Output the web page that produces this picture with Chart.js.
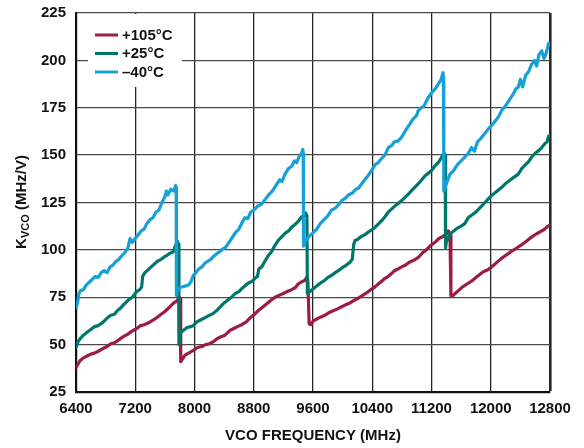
<!DOCTYPE html>
<html><head><meta charset="utf-8">
<script src="https://cdn.jsdelivr.net/npm/chart.js@4.4.0/dist/chart.umd.min.js"></script>
<style>html,body{margin:0;padding:0;background:#fff}</style>
</head><body>
<canvas id="c" width="584" height="448"></canvas>
<script>
// ---- data ----
const xTicks = [6400,7200,8000,8800,9600,10400,11200,12000,12800];
const yTicks = [25,50,75,100,125,150,175,200,225];
const seriesNames = ['+105°C','+25°C','\u201340°C'];
const seriesColors = ['#9c1b47','#00776b','#16a0d8'];

const freqM40 = [
6400,6420,6440,6460,6500,6540,6580,6620,6660,6700,
6740,6780,6820,6860,6900,6940,6980,7020,7060,7100,
7130,7160,7200,7240,7280,7320,7360,7400,7440,7480,
7520,7560,7600,7620,7640,7680,7720,7745,7752,7756,
7775,7800,7840,7880,7920,7950,7984,8020,8060,8100,
8140,8180,8220,8254,8300,8340,8380,8412,8450,8500,
8550,8600,8650,8682,8720,8760,8800,8850,8900,8952,
9000,9050,9100,9150,9180,9222,9270,9310,9350,9380,
9410,9447,9462,9468,9472,9500,9559,9600,9650,9700,
9762,9800,9850,9900,9950,9987,10030,10080,10130,10180,
10212,10260,10300,10340,10392,10440,10480,10520,10572,10617,
10660,10700,10750,10797,10850,10900,10950,11000,11022,11060,
11100,11150,11203,11250,11300,11330,11355,11362,11366,11385,
11410,11450,11500,11550,11600,11650,11697,11740,11780,11820,
11870,11922,11970,12020,12060,12100,12148,12200,12250,12300,
12340,12372,12400,12430,12470,12510,12553,12590,12620,12650,
12688,12720,12750,12780,12800];
const kvcoM40 = [
69.5,72,77,78.5,79,81.5,83,84.5,86,85.5,
88,89,88,91,92,94,95,97,98.5,101,
106,104,106,108,110,111,114,116,117,120,
121,125,128,131,129,132,131,134,133,76,
79,80,80.5,81,81.5,83,86.5,88,90,91,
93,94,95,96.5,98,99,100.5,101,103,106,
109,111,115,117,116.5,120,121,123,124,126.5,
129,131,134,137,136,140,143,144,147,146,
149,151,153,151,102,105,107.5,109,111,114,
116.5,118,121,122,124,126,127,129,130,132,
132.5,135,137,139,142,145,146,148,150,154,
155,157,157.5,159.5,163,166,169,171,173.5,175,
176,180,183,185,188,190,193.5,191,131,133,
136,140,142,145,147,149,151,154,152,157,
159,161.5,164,166,168,170,173.5,176,179,182,
185,186,190,186,192,194,198,200,197,203,
205,201,204,209,208];

const freq25 = [
6400,6420,6454,6500,6550,6600,6650,6700,6769,6820,
6870,6920,6960,6994,7040,7080,7120,7160,7219,7260,
7287,7300,7330,7360,7400,7444,7500,7550,7600,7625,
7660,7714,7740,7770,7782,7790,7800,7849,7900,7950,
7984,8030,8080,8130,8180,8254,8300,8350,8400,8450,
8500,8550,8600,8637,8680,8730,8780,8817,8850,8870,
8907,8950,8996,9040,9080,9131,9180,9230,9270,9312,
9360,9400,9447,9480,9500,9518,9524,9560,9604,9650,
9700,9762,9800,9850,9900,9942,9990,10050,10100,10130,
10150,10170,10200,10250,10300,10350,10392,10440,10490,10540,
10572,10617,10660,10700,10750,10797,10850,10900,10950,11000,
11022,11070,11110,11160,11203,11250,11300,11338,11370,11385,
11390,11400,11450,11500,11550,11600,11652,11697,11750,11800,
11850,11922,11970,12020,12070,12100,12148,12200,12250,12300,
12372,12420,12470,12510,12553,12600,12650,12688,12730,12760,
12780,12800];
const kvco25 = [
48.5,51,53,55,56.5,58,59.5,60,62,64,
65.5,66,68,69,71,72.5,74,75,78,79,
80.5,86,88,89,90.5,92,94,95,96.5,97,
98,99,102,104.5,103,50,56,57.5,59,59.5,
60,62,63,64,65,66.5,68,70,72,73.5,
75,77,78,79.5,81,82.5,83.5,85,86,90,
91,94,97,99,102,105,107,109,110,112,
113.5,115,117.5,118,119.5,118,77,78,79.5,81,
82.5,84,85.5,86.5,88,89,90.5,92,93.5,95,
103,105,105.5,107,108,109.5,110.5,112,114,116,
117.5,120,121.5,123,124.5,126,128,130,132,134,
135,137,139,140.5,142,144.5,146.5,149,151,150,
101,104,108.5,110,111.5,112.5,114,117,118.5,120,
122,125,127,129,130.5,131.5,133,135,136.5,138,
140,143,145,146.5,149,151,152.5,154,156,157,
160,160.5];

const freq105 = [
6400,6430,6454,6500,6550,6600,6650,6700,6769,6820,
6870,6920,6960,6994,7050,7100,7150,7219,7270,7320,
7380,7444,7500,7550,7600,7669,7720,7760,7795,7806,
7814,7830,7872,7920,7984,8040,8100,8150,8200,8254,
8300,8350,8412,8479,8530,8580,8637,8700,8760,8810,
8862,8910,8960,9020,9087,9140,9200,9250,9312,9360,
9400,9440,9492,9515,9530,9548,9570,9604,9650,9700,
9762,9820,9880,9940,9987,10040,10100,10160,10212,10270,
10330,10380,10437,10480,10530,10572,10617,10660,10700,10750,
10797,10850,10900,10960,11022,11080,11130,11180,11247,11300,
11350,11405,11427,11450,11462,11480,11520,11562,11620,11680,
11740,11787,11850,11900,11960,12012,12070,12130,12180,12237,
12290,12350,12410,12463,12510,12560,12620,12688,12730,12770,
12800];
const kvco105 = [
38,40,41.5,43,44,45,45.5,46.5,48,49,
50.5,51,52,53,54.5,55.5,57,58.5,60,60.5,
61.5,63,64.5,66,67.5,70,72,73,75,74,
41,42,44.5,45.5,47,48.5,49,50,50.5,51.5,
53,54,55,57.5,58.5,59.5,60.5,62,64.5,66,
68,69.5,71,73,75,76,77,78,79,80,
82,83,84,85.5,84,61,60.5,62.5,63.5,64.5,
65.5,67,68,69,70,71,72,73.5,74.5,76,
77.5,79,80.5,82,83.5,85,86,87.5,89,90,
91,92,93.5,94.5,96,98.5,100,102,104,106,
107,108.5,110,108,76,75.5,77,78.5,80.5,82,
83.5,85,87,88.5,89.5,91,93,95,96.5,98,
99.5,101,102.5,104,105.5,107,108.5,110,111,112.5,
113];

// ---- chart ----
const pts = (fs, ks) => fs.map((f, i) => ({x: f, y: ks[i]}));
const FONT = '"Liberation Sans", Arial, sans-serif';

const mk = (i, fs, ks, order) => ({
  label: seriesNames[i], data: pts(fs, ks), borderColor: seriesColors[i],
  backgroundColor: seriesColors[i], borderWidth: 3.2, pointRadius: 0,
  tension: 0, fill: false, order: order, borderJoinStyle: 'round', borderCapStyle: 'round'
});

const decor = {
  id: 'decor',
  afterDraw(chart) {
    const c = chart.ctx;
    c.save();
    // legend box
    c.fillStyle = '#fff';
    c.fillRect(88, 14, 94, 73);
    const ly = [35, 53.5, 72];
    for (let i = 0; i < 3; i++) {
      c.strokeStyle = seriesColors[i];
      c.lineWidth = 3;
      c.lineCap = 'butt';
      c.beginPath(); c.moveTo(95, ly[i]); c.lineTo(118, ly[i]); c.stroke();
      c.fillStyle = '#111';
      c.font = 'bold 15px ' + FONT;
      c.textBaseline = 'middle'; c.textAlign = 'left';
      c.fillText(seriesNames[i], 122, ly[i] + 0.5);
    }
    // x title
    c.fillStyle = '#111';
    c.font = 'bold 15px ' + FONT;
    c.textAlign = 'center'; c.textBaseline = 'middle';
    c.fillText('VCO FREQUENCY (MHz)', 313, 436);
    // y title with subscript
    c.translate(20, 202);
    c.rotate(-Math.PI / 2);
    c.textAlign = 'left'; c.textBaseline = 'alphabetic';
    const fBig = 'bold 15px ' + FONT, fSmall = 'bold 11px ' + FONT;
    c.font = fBig; const wK = c.measureText('K').width;
    c.font = fSmall; const wS = c.measureText('VCO').width;
    c.font = fBig; const wR = c.measureText(' (MHz/V)').width;
    let x0 = -(wK + wS + wR) / 2;
    const base = 5.5;
    c.font = fBig; c.fillText('K', x0, base); x0 += wK;
    c.font = fSmall; c.fillText('VCO', x0, base + 3); x0 += wS;
    c.font = fBig; c.fillText(' (MHz/V)', x0, base);
    c.restore();
  }
};

new Chart(document.getElementById('c'), {
  type: 'line',
  data: { datasets: [ mk(2, freqM40, kvcoM40, 0), mk(1, freq25, kvco25, 1), mk(0, freq105, kvco105, 2) ] },
  options: {
    responsive: false, animation: false, devicePixelRatio: 1,
    layout: { padding: { top: 13, right: 34, left: 0, bottom: 0 } },
    plugins: { legend: { display: false }, tooltip: { enabled: false } },
    scales: {
      x: {
        type: 'linear', min: xTicks[0], max: xTicks[xTicks.length - 1],
        afterBuildTicks: s => { s.ticks = xTicks.map(v => ({value: v})); },
        ticks: { font: { family: FONT, size: 15, weight: 'bold' }, color: '#111', padding: 8, maxRotation: 0, autoSkip: false,
                 callback: v => String(v) },
        grid: { color: '#262626', lineWidth: ctx => (ctx.tick && ctx.tick.value === 12800 ? 2.6 : 1.3), drawTicks: false },
        border: { color: '#111', width: 2.2 },
        afterFit: s => { s.height = 56; s.paddingLeft = 0; s.paddingRight = 0; }
      },
      y: {
        min: yTicks[0], max: yTicks[yTicks.length - 1],
        afterBuildTicks: s => { s.ticks = yTicks.map(v => ({value: v})); },
        ticks: { font: { family: FONT, size: 15, weight: 'bold' }, color: '#111', padding: 10, callback: v => String(v) },
        grid: { color: '#4a4a4a', lineWidth: 1.3, drawTicks: false },
        border: { color: '#111', width: 2.2 },
        afterFit: s => { s.width = 76; s.paddingTop = 0; s.paddingBottom = 0; }
      }
    }
  },
  plugins: [decor]
});
</script>
</body></html>
